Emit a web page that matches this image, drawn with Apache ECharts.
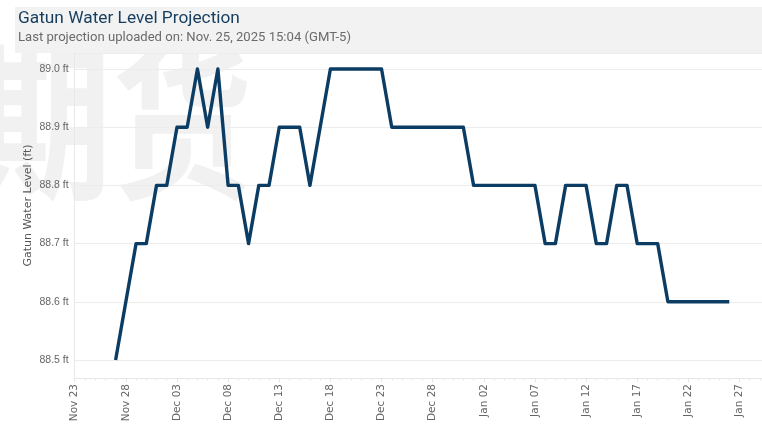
<!DOCTYPE html>
<html>
<head>
<meta charset="utf-8">
<script src="https://cdn.jsdelivr.net/npm/echarts@6/dist/echarts.min.js"></script>
<style>
  html, body { margin: 0; padding: 0; background: #ffffff; }
  #chart { width: 762px; height: 430px; }
</style>
</head>
<body>
<div id="chart"></div>
<script>
// Projected daily Gatun Lake water level (ft)
const dates = [
  '2025-11-27','2025-11-28','2025-11-29','2025-11-30','2025-12-01','2025-12-02','2025-12-03',
  '2025-12-04','2025-12-05','2025-12-06','2025-12-07','2025-12-08','2025-12-09','2025-12-10',
  '2025-12-11','2025-12-12','2025-12-13','2025-12-14','2025-12-15','2025-12-16','2025-12-17',
  '2025-12-18','2025-12-19','2025-12-20','2025-12-21','2025-12-22','2025-12-23','2025-12-24',
  '2025-12-25','2025-12-26','2025-12-27','2025-12-28','2025-12-29','2025-12-30','2025-12-31',
  '2026-01-01','2026-01-02','2026-01-03','2026-01-04','2026-01-05','2026-01-06','2026-01-07',
  '2026-01-08','2026-01-09','2026-01-10','2026-01-11','2026-01-12','2026-01-13','2026-01-14',
  '2026-01-15','2026-01-16','2026-01-17','2026-01-18','2026-01-19','2026-01-20','2026-01-21',
  '2026-01-22','2026-01-23','2026-01-24','2026-01-25','2026-01-26'
];
const levels = [
  88.5, 88.6, 88.7, 88.7, 88.8, 88.8, 88.9,
  88.9, 89.0, 88.9, 89.0, 88.8, 88.8, 88.7,
  88.8, 88.8, 88.9, 88.9, 88.9, 88.8, 88.9,
  89.0, 89.0, 89.0, 89.0, 89.0, 89.0, 88.9,
  88.9, 88.9, 88.9, 88.9, 88.9, 88.9, 88.9,
  88.8, 88.8, 88.8, 88.8, 88.8, 88.8, 88.8,
  88.7, 88.7, 88.8, 88.8, 88.8, 88.7, 88.7,
  88.8, 88.8, 88.7, 88.7, 88.7, 88.6, 88.6,
  88.6, 88.6, 88.6, 88.6, 88.6
];
// Date axis: first tick date, tick step (days) and visible span (days)
const axisStart = '2025-11-23';
const tickStepDays = 5;
const axisSpanDays = 67.2;
const monthNames = ['Jan','Feb','Mar','Apr','May','Jun','Jul','Aug','Sep','Oct','Nov','Dec'];

const DAY = 86400000;
const startMs = Date.parse(axisStart + 'T00:00:00Z');
const dayOffset = d => (Date.parse(d + 'T00:00:00Z') - startMs) / DAY;
const dayLabel = off => {
  const dt = new Date(startMs + Math.round(off) * DAY);
  const dd = String(dt.getUTCDate()).padStart(2, '0');
  return monthNames[dt.getUTCMonth()] + ' ' + dd;
};
const seriesData = dates.map((d, i) => [dayOffset(d), levels[i]]);

// vertical extent: 0.1 ft per 58.2 px, 89.0 gridline 16 px below plot top, 88.5 gridline 18 px above axis
const pxPerFt = 582;
const yMin = 88.5 - 18 / pxPerFt;
const yMax = 89.0 + 16 / pxPerFt;

const chart = echarts.init(document.getElementById('chart'), null, { renderer: 'canvas' });
chart.setOption({
  backgroundColor: '#ffffff',
  animation: false,
  graphic: [
    {
      type: 'text',
      left: -28,
      top: 38,
      z: -10,
      silent: true,
      scaleY: 1.2,
      style: {
        text: '期货',
        fontFamily: 'Noto Sans CJK SC',
        fontWeight: 'bold',
        fontSize: 140,
        fill: '#f1f1f1'
      }
    },
    {
      type: 'rect',
      z: 1,
      silent: true,
      shape: { x: 15, y: 7, width: 747, height: 46 },
      style: { fill: '#f2f2f2' }
    }
  ],
  title: {
    text: 'Gatun Water Level Projection',
    subtext: 'Last projection uploaded on: Nov. 25, 2025 15:04 (GMT-5)',
    left: 14,
    top: 6.5,
    itemGap: 3.5,
    padding: [4, 4],
    z: 10,
    textStyle: {
      fontFamily: 'Roboto',
      fontSize: 17.3,
      fontWeight: 'normal',
      color: '#163d5e'
    },
    subtextStyle: {
      fontFamily: 'Roboto',
      fontSize: 13.1,
      color: '#6a6a6a'
    }
  },
  grid: {
    left: 74.7,
    right: 0,
    top: 53,
    bottom: 52,
    containLabel: false
  },
  xAxis: {
    type: 'value',
    min: 0,
    max: axisSpanDays,
    interval: tickStepDays,
    axisLine: { show: true, lineStyle: { color: '#e6e6e6', width: 1 } },
    axisTick: { show: true, length: 4, lineStyle: { color: '#e6e6e6' } },
    minorTick: { show: true, splitNumber: 5, length: 3, lineStyle: { color: '#ececec' } },
    splitLine: { show: false },
    axisLabel: {
      rotate: 90,
      margin: 6,
      fontFamily: 'DejaVu Sans',
      fontSize: 10.5,
      color: '#666666',
      showMaxLabel: false,
      formatter: v => dayLabel(v)
    }
  },
  yAxis: {
    type: 'value',
    min: yMin,
    max: yMax,
    name: 'Gatun Water Level (ft)',
    nameLocation: 'middle',
    nameGap: 41,
    nameMoveOverlap: false,
    nameTextStyle: {
      fontFamily: 'DejaVu Sans',
      fontSize: 11,
      color: '#555555',
      padding: [0, 0, 0, 20]
    },
    axisLine: { show: true, lineStyle: { color: '#e8e8e8', width: 1 } },
    axisTick: { show: false },
    splitLine: { show: true, lineStyle: { color: '#ececec', width: 1 } },
    axisLabel: {
      margin: 6,
      fontFamily: 'Liberation Sans',
      fontSize: 10.5,
      color: '#666666',
      showMinLabel: false,
      showMaxLabel: false,
      formatter: v => v.toFixed(1) + ' ft'
    }
  },
  series: [
    {
      type: 'line',
      data: seriesData,
      showSymbol: false,
      clip: false,
      lineStyle: { color: '#0b3d64', width: 3.4, join: 'round' },
      itemStyle: { color: '#0b3d64' }
    }
  ]
});
</script>
</body>
</html>
